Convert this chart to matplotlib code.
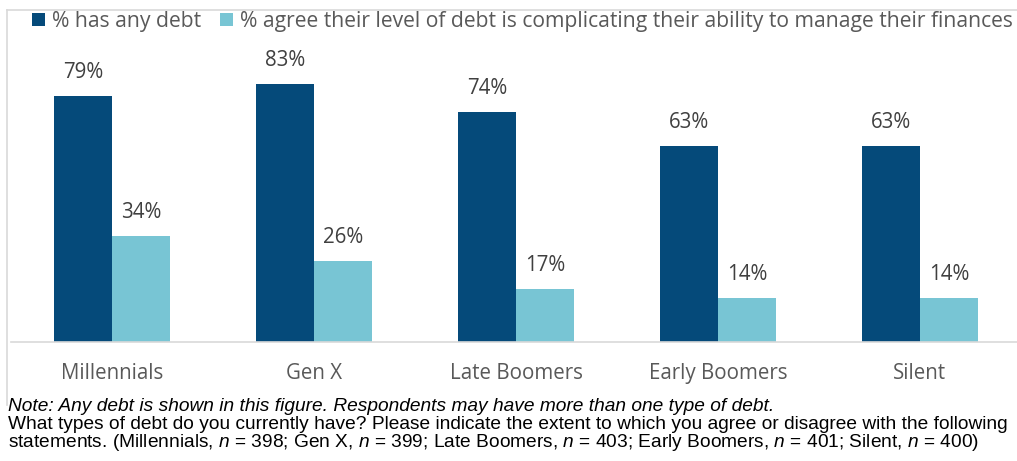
import matplotlib
matplotlib.use("Agg")
import matplotlib.pyplot as plt
import numpy as np

generations = ["Millennials", "Gen X", "Late Boomers", "Early Boomers", "Silent"]
any_debt = [79, 83, 74, 63, 63]
complicating = [34, 26, 17, 14, 14]
series_names = ["% has any debt",
                "% agree their level of debt is complicating their ability to manage their finances"]

dark = "#054a7a"
light = "#78c5d4"

plt.rcParams["mathtext.fontset"] = "custom"
plt.rcParams["mathtext.it"] = "Liberation Sans:italic"
plt.rcParams["mathtext.rm"] = "Liberation Sans"

W, H = 1017, 461
fig = plt.figure(figsize=(W / 100, H / 100), dpi=100)

# axes in pixel coords: left 11, right 1017, bottom baseline y=342, top y=10
ax = fig.add_axes([11 / W, (H - 342) / H, (W - 11) / W, 332 / H])
step = 202
ax.set_xlim(-0.5, -0.5 + (W - 11) / step)
ax.set_ylim(0, 332 / 3.108)

x = np.arange(len(generations))
bw = 58 / step
b1 = ax.bar(x - bw / 2, any_debt, bw, color=dark, label=series_names[0])
b2 = ax.bar(x + bw / 2, complicating, bw, color=light, label=series_names[1])

lab_font = "Open Sans"
fs = 14.8
for bars, vals in [(b1, any_debt), (b2, complicating)]:
    for r, v in zip(bars, vals):
        ax.annotate(f"{v}%", (r.get_x() + r.get_width() / 2, v),
                    xytext=(0, 17), textcoords="offset points",
                    ha="center", va="center", fontsize=fs,
                    family=lab_font, color="#404040")

for s in ["top", "right", "left"]:
    ax.spines[s].set_visible(False)
ax.spines["bottom"].set_color("#d9d9d9")
ax.spines["bottom"].set_linewidth(1.2)
ax.set_yticks([])
ax.set_xticks(x)
ax.set_xticklabels(generations, fontsize=fs, family=lab_font, color="#595959")
ax.tick_params(axis="x", length=0, pad=15)

# legend
leg = fig.legend(loc="upper left", bbox_to_anchor=(32 / W, 1 - 11 / H), ncol=2,
                 frameon=False, prop={"family": lab_font, "size": 15.2},
                 handlelength=0.62, handleheight=0.62, handletextpad=0.35,
                 columnspacing=0.85, borderaxespad=0, borderpad=0)
for t in leg.get_texts():
    t.set_color("#595959")

# chart frame (top and left)
fig.add_artist(plt.Line2D([7 / W, 1], [1 - 10 / H, 1 - 10 / H], color="#d9d9d9", lw=1.2))
fig.add_artist(plt.Line2D([7 / W, 7 / W], [1 - 10 / H, 1 - 405 / H], color="#d9d9d9", lw=1.2))

# notes
note_size = 13.8
fig.text(8 / W, 1 - 406 / H,
         "Note: Any debt is shown in this figure. Respondents may have more than one type of debt.",
         family="Liberation Sans", style="italic", fontsize=note_size, va="center", color="black")
fig.text(8 / W, 1 - 424 / H,
         "What types of debt do you currently have? Please indicate the extent to which you agree or disagree with the following",
         family="Liberation Sans", fontsize=note_size, va="center", color="black")
fig.text(8 / W, 1 - 442 / H,
         "statements. (Millennials, $n$ = 398; Gen X, $n$ = 399; Late Boomers, $n$ = 403; "
         "Early Boomers, $n$ = 401; Silent, $n$ = 400)",
         family="Liberation Sans", fontsize=note_size, va="center", color="black")

fig.savefig("out.png", dpi=100)
